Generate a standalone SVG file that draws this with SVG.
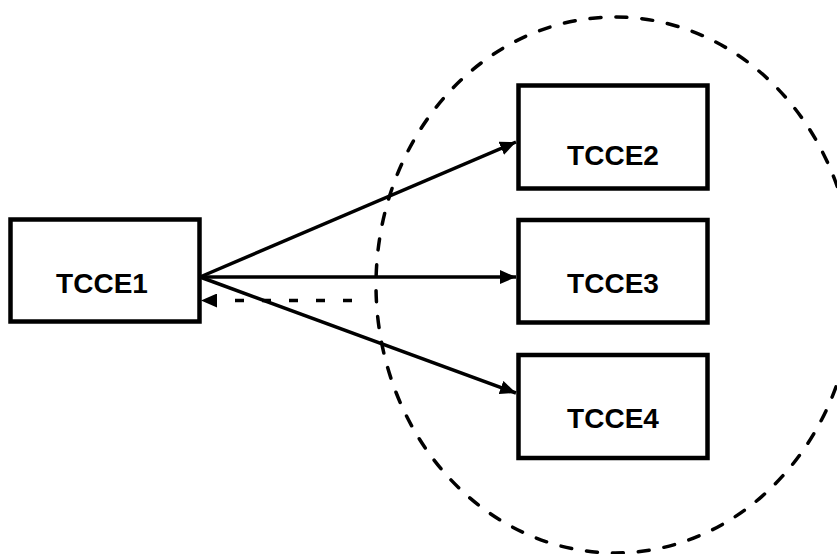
<svg xmlns="http://www.w3.org/2000/svg" width="837" height="554" viewBox="0 0 837 554">
  <style>
    .box { fill: #fff; stroke: #000; stroke-width: 4.5; }
    .lbl { font-family: "Liberation Sans", Arial, sans-serif; font-weight: bold; font-size: 28px; fill: #000; text-anchor: middle; }
    .link { stroke: #000; stroke-width: 3.5; fill: none; }
    .back { stroke-dasharray: 9 18; }
    .zone { fill: none; stroke: #000; stroke-width: 3.5; stroke-linecap: round; stroke-dasharray: 11 15; }
  </style>
  <defs>
    <marker id="head" viewBox="0 0 16 14" refX="16" refY="7" markerWidth="16" markerHeight="14" markerUnits="userSpaceOnUse" orient="auto">
      <path d="M0,0 L16,7 L0,14 Z" fill="#000"/>
    </marker>
  </defs>
  <rect width="837" height="554" fill="#fff"/>

  <!-- dashed boundary around the receiving nodes -->
  <ellipse class="zone" cx="615" cy="285" rx="239" ry="268"/>

  <g id="connectors">
    <line class="link" x1="200" y1="277" x2="516" y2="142" marker-end="url(#head)"/>
    <line class="link" x1="200" y1="277" x2="516" y2="277" marker-end="url(#head)"/>
    <line class="link" x1="200" y1="277" x2="516" y2="393" marker-end="url(#head)"/>
    <line class="link back" x1="352" y1="300.5" x2="201" y2="300.5" marker-end="url(#head)"/>
  </g>

  <g id="TCCE1">
    <rect class="box" x="10.5" y="219.5" width="189" height="102"/>
    <text class="lbl" x="102" y="293">TCCE1</text>
  </g>
  <g id="TCCE2">
    <rect class="box" x="518.5" y="85.5" width="189" height="103"/>
    <text class="lbl" x="613" y="165">TCCE2</text>
  </g>
  <g id="TCCE3">
    <rect class="box" x="518.5" y="220" width="189" height="102.5"/>
    <text class="lbl" x="613" y="293">TCCE3</text>
  </g>
  <g id="TCCE4">
    <rect class="box" x="518.5" y="355" width="189" height="103"/>
    <text class="lbl" x="613" y="428">TCCE4</text>
  </g>
</svg>
